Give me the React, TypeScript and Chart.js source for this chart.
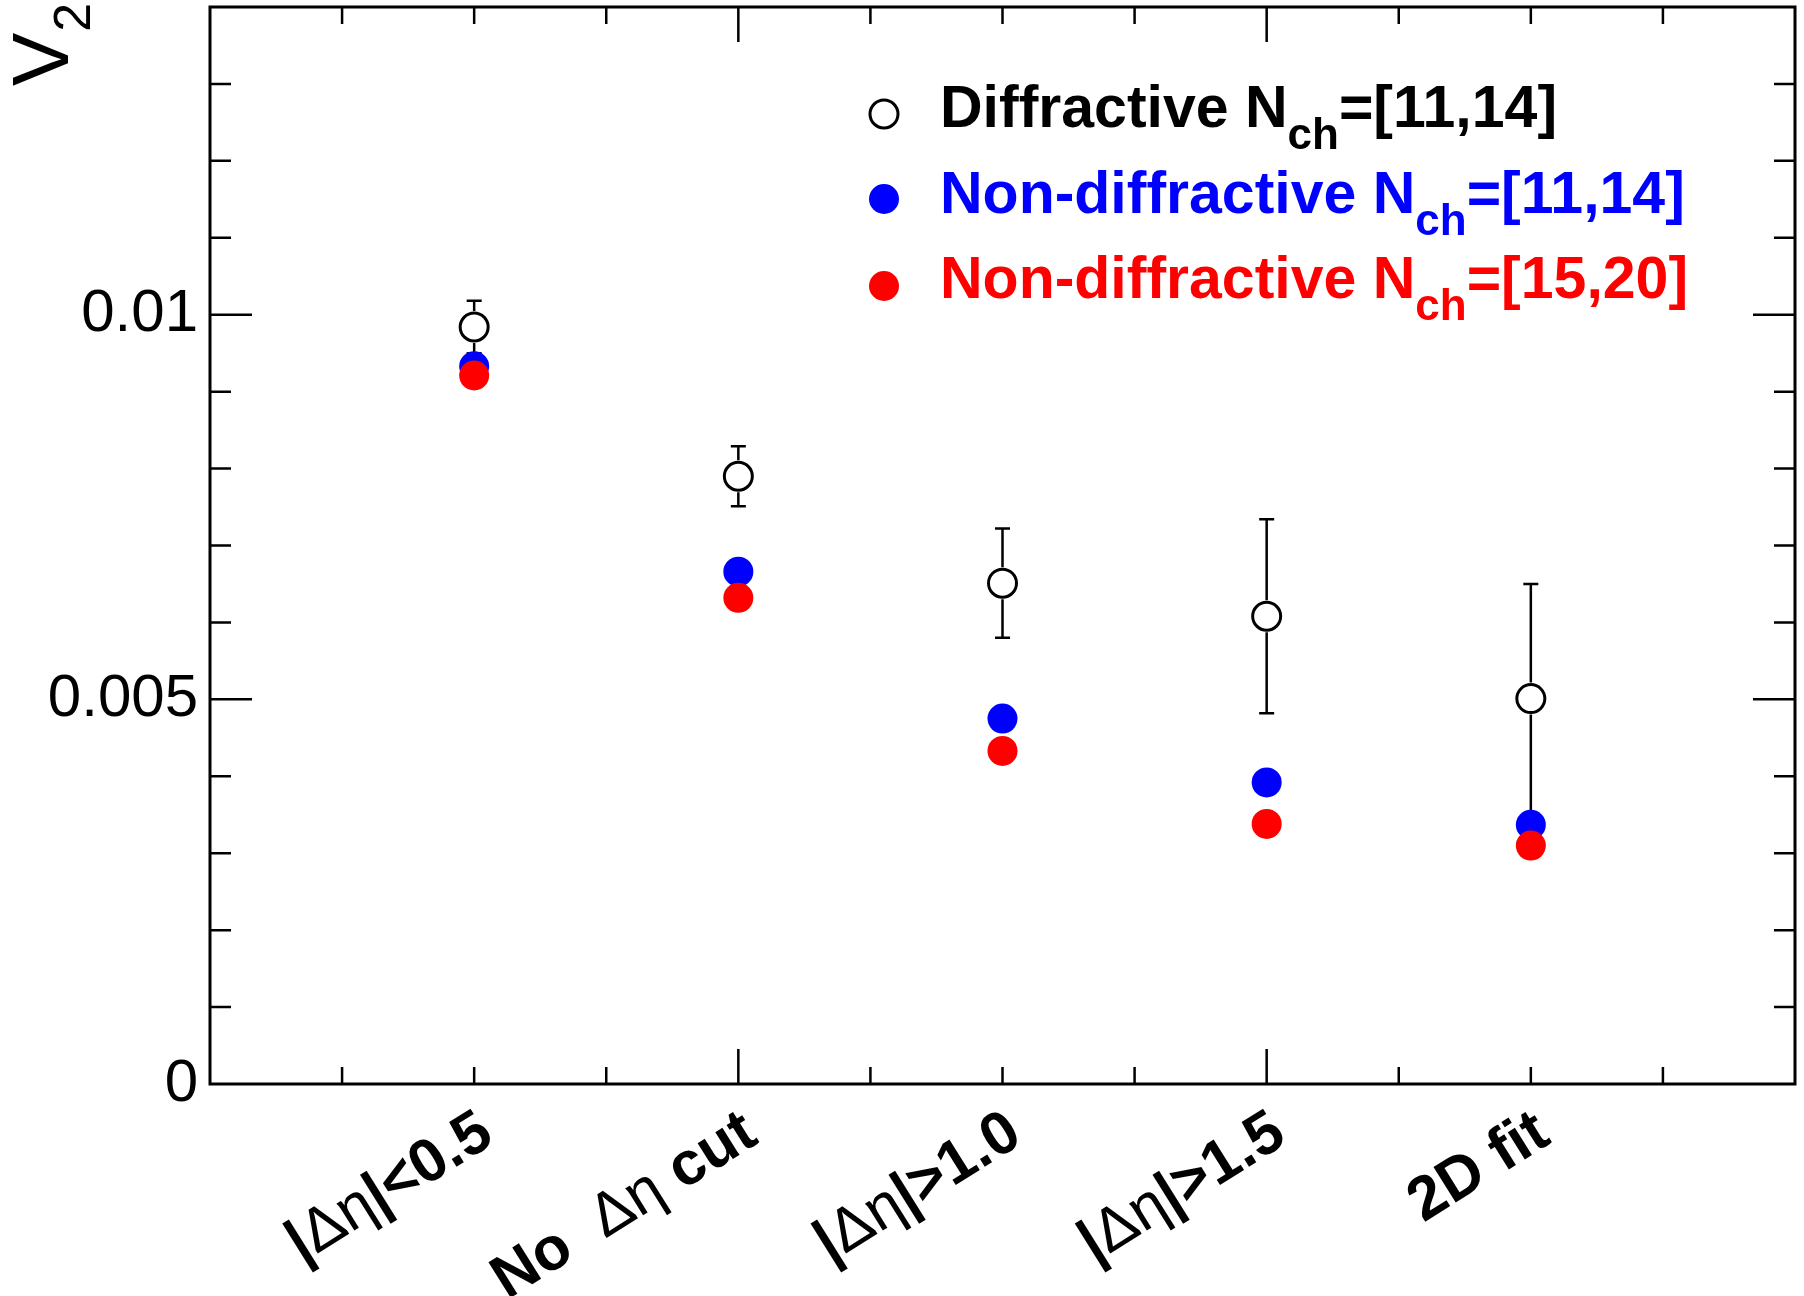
import { useEffect, useRef } from 'react';
import { Chart, registerables } from 'chart.js';

Chart.register(...registerables);

// categories sit at x = 1..5 on a 0..6 axis (like the original ROOT frame)
const categories = ['|Δη|<0.5', 'No  Δη cut', '|Δη|>1.0', '|Δη|>1.5', '2D fit'];
const categoryX = [1, 2, 3, 4, 5];

const diffractiveV2 = [0.00984, 0.0079, 0.00651, 0.00608, 0.00501];
const diffractiveErr = [0.00034, 0.00039, 0.00071, 0.00126, 0.00149];
const nonDiff1114V2 = [0.00933, 0.00666, 0.00475, 0.00392, 0.00337];
const nonDiff1520V2 = [0.00921, 0.00632, 0.00433, 0.00338, 0.0031];

const yTickValues = [0, 0.005, 0.01];
const yTickLabels = ['0', '0.005', '0.01'];

const legendNames = ['Diffractive N', 'Non-diffractive N', 'Non-diffractive N'];
const legendRanges = ['=[11,14]', '=[11,14]', '=[15,20]'];
const legendColors = ['#000000', '#0000ff', '#ff0000'];

const FONT = '"Liberation Sans", Arial, Helvetica, sans-serif';

const noPad = (s: any) => {
  s.paddingTop = 0;
  s.paddingBottom = 0;
  s.paddingLeft = 0;
  s.paddingRight = 0;
};

const rootStyle = {
  id: 'rootStyle',
  beforeDatasetsDraw(chart: any) {
    const { ctx, scales } = chart;
    const xs = scales.x, ys = scales.y;
    ctx.save();
    ctx.strokeStyle = '#000';
    ctx.lineWidth = 2.5;
    const r = 16;
    diffractiveV2.forEach((v, i) => {
      const px = xs.getPixelForValue(categoryX[i]);
      const pc = ys.getPixelForValue(v);
      const ph = ys.getPixelForValue(v + diffractiveErr[i]);
      const pl = ys.getPixelForValue(v - diffractiveErr[i]);
      ctx.beginPath();
      ctx.moveTo(px, ph); ctx.lineTo(px, pc - r);
      ctx.moveTo(px, pc + r); ctx.lineTo(px, pl);
      ctx.moveTo(px - 7.5, ph); ctx.lineTo(px + 7.5, ph);
      ctx.moveTo(px - 7.5, pl); ctx.lineTo(px + 7.5, pl);
      ctx.stroke();
    });
    ctx.restore();
  },
  afterDraw(chart: any) {
    const { ctx, chartArea: a, scales } = chart;
    const xs = scales.x, ys = scales.y;
    ctx.save();
    // frame
    ctx.strokeStyle = '#000';
    ctx.lineWidth = 3;
    ctx.strokeRect(a.left, a.top, a.right - a.left, a.bottom - a.top);
    ctx.lineWidth = 2.5;
    ctx.beginPath();
    for (let k = 1; k < 14; k++) {
      const py = ys.getPixelForValue(k / 1000);
      const len = k % 5 === 0 ? 42 : 21;
      ctx.moveTo(a.left, py); ctx.lineTo(a.left + len, py);
      ctx.moveTo(a.right, py); ctx.lineTo(a.right - len, py);
    }
    for (let k = 1; k < 12; k++) {
      const px = xs.getPixelForValue(k / 2);
      const len = k % 4 === 0 ? 35 : 17;
      ctx.moveTo(px, a.bottom); ctx.lineTo(px, a.bottom - len);
      ctx.moveTo(px, a.top); ctx.lineTo(px, a.top + len);
    }
    ctx.stroke();

    // rotated category labels, with the Δη part in a regular weight
    ctx.fillStyle = '#000';
    ctx.textBaseline = 'alphabetic';
    ctx.textAlign = 'left';
    const bold = `bold 61px ${FONT}`;
    const reg = `61px ${FONT}`;
    categories.forEach((lab, i) => {
      const parts = lab.split('Δη');
      const segs: [string, string][] = [];
      parts.forEach((p, j) => {
        if (p) segs.push([p, bold]);
        if (j < parts.length - 1) segs.push(['Δη', reg]);
      });
      let w = 0;
      segs.forEach(([t, f]) => { ctx.font = f; w += ctx.measureText(t).width; });
      const px = xs.getPixelForValue(categoryX[i]) + 22;
      ctx.save();
      ctx.translate(px, a.bottom + 58);
      ctx.rotate(-32 * Math.PI / 180);
      let cx = -w;
      segs.forEach(([t, f]) => {
        ctx.font = f;
        ctx.fillText(t, cx, 0);
        cx += ctx.measureText(t).width;
      });
      ctx.restore();
    });

    // y title V_2
    ctx.save();
    ctx.translate(68, 86);
    ctx.rotate(-Math.PI / 2);
    ctx.font = `80px ${FONT}`;
    ctx.fillText('V', 0, 0);
    const vw = ctx.measureText('V').width;
    ctx.font = `52px ${FONT}`;
    ctx.fillText('2', vw + 1, 22);
    ctx.restore();

    // legend
    const rowY = [127, 213, 298];
    const markY = [114, 199, 286];
    legendNames.forEach((name, i) => {
      ctx.beginPath();
      ctx.arc(884, markY[i], i === 0 ? 14 : 15, 0, Math.PI * 2);
      if (i === 0) {
        ctx.fillStyle = '#fff'; ctx.fill();
        ctx.lineWidth = 3; ctx.strokeStyle = '#000'; ctx.stroke();
      } else {
        ctx.fillStyle = legendColors[i]; ctx.fill();
      }
      ctx.fillStyle = legendColors[i];
      let tx = 940;
      ctx.font = `bold 59px ${FONT}`;
      ctx.fillText(name, tx, rowY[i]);
      tx += ctx.measureText(name).width;
      ctx.font = `bold 44px ${FONT}`;
      ctx.fillText('ch', tx, rowY[i] + 22);
      tx += ctx.measureText('ch').width;
      ctx.font = `bold 59px ${FONT}`;
      ctx.fillText(legendRanges[i], tx, rowY[i]);
    });
    ctx.restore();
  },
};

export default function App() {
  const canvasRef = useRef<HTMLCanvasElement | null>(null);

  useEffect(() => {
    document.body.style.margin = '0';
    const canvas = canvasRef.current;
    if (!canvas) return;
    const toPts = (vals: number[]) => vals.map((v, i) => ({ x: categoryX[i], y: v }));
    const chart = new Chart(canvas, {
      type: 'scatter',
      data: {
        datasets: [
          {
            label: 'Diffractive',
            data: toPts(diffractiveV2),
            pointRadius: 14,
            pointBorderWidth: 3,
            pointBorderColor: '#000',
            pointBackgroundColor: '#fff',
            order: 2,
          },
          {
            label: 'Non-diffractive 11-14',
            data: toPts(nonDiff1114V2),
            pointRadius: 15,
            pointBorderWidth: 0,
            pointBackgroundColor: '#0000ff',
            order: 1,
          },
          {
            label: 'Non-diffractive 15-20',
            data: toPts(nonDiff1520V2),
            pointRadius: 15,
            pointBorderWidth: 0,
            pointBackgroundColor: '#ff0000',
            order: 0,
          },
        ],
      },
      options: {
        animation: false,
        responsive: true,
        maintainAspectRatio: false,
        layout: { autoPadding: false, padding: { top: 7, right: 9, left: 0, bottom: 0 } },
        plugins: { legend: { display: false }, tooltip: { enabled: false } },
        scales: {
          x: {
            type: 'linear',
            min: 0,
            max: 6,
            grid: { display: false, drawTicks: false },
            border: { display: false },
            ticks: { display: false },
            afterFit: (s: any) => { s.height = 212; noPad(s); },
          },
          y: {
            min: 0,
            max: 0.014,
            grid: { display: false, drawTicks: false },
            border: { display: false },
            afterBuildTicks: (s: any) => { s.ticks = yTickValues.map((v) => ({ value: v })); },
            afterFit: (s: any) => { s.width = 210; noPad(s); },
            ticks: {
              padding: 12,
              color: '#000',
              font: { family: FONT, size: 60 },
              callback: (_v: any, i: number) => yTickLabels[i],
            },
          },
        },
      },
      plugins: [rootStyle],
    });
    return () => chart.destroy();
  }, []);

  return (
    <div style={{ position: 'relative', width: 1804, height: 1296, background: '#fff' }}>
      <canvas ref={canvasRef} />
    </div>
  );
}
